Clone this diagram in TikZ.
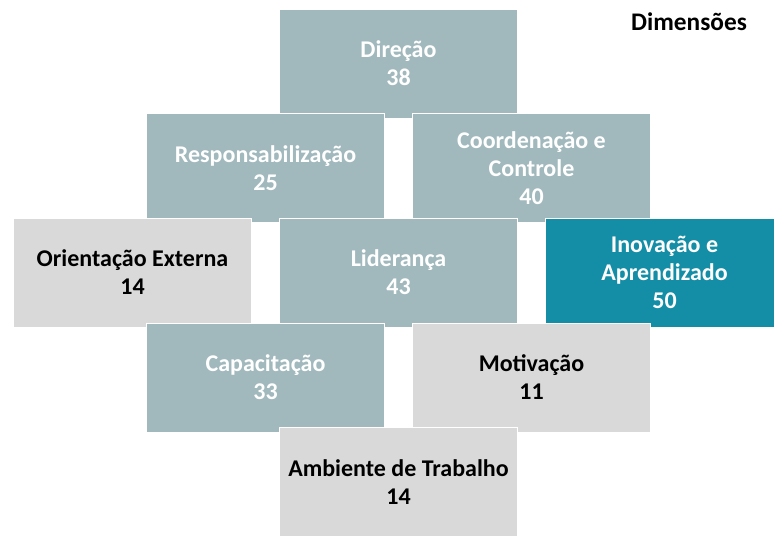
\documentclass[tikz,border=0pt]{standalone}
\usepackage{fontspec}
\setmainfont{Carlito}
\usepackage{tikz}
\usetikzlibrary{positioning}

\definecolor{cinzaAzul}{RGB}{161,185,189}
\definecolor{cinzaClaro}{RGB}{217,217,217}
\definecolor{azulForte}{RGB}{19,142,166}

\begin{document}
\begin{tikzpicture}
  [x=0.75pt,y=-0.75pt,
   every node/.style={rectangle,draw=white,line width=0.6pt,inner sep=0pt,
     minimum width=178.5pt,minimum height=81.75pt,align=center,
     font=\fontsize{18}{21}\selectfont\bfseries},
   fraca/.style={fill=cinzaAzul,text=white},
   neutra/.style={fill=cinzaClaro,text=black},
   forte/.style={fill=azulForte,text=white}]
  \useasboundingbox (0,0) rectangle (774,537);
  \node[fraca] (dir) at (398.5,63.5) {Direção\\38};
  \node[fraca] (resp) at (265.5,168) {Responsabilização\\25};
  \node[fraca] (coord) at (531.5,168) {Coordenação e\\Controle\\40};
  \node[neutra] (orient) at (132.5,272.5) {Orientação Externa\\14};
  \node[fraca] (lider) at (398.5,272.5) {Liderança\\43};
  \node[forte] (inov) at (664.5,272.5) {Inovação e\\Aprendizado\\50};
  \node[fraca] (capac) at (265.5,377.5) {Capacitação\\33};
  \node[neutra] (motiv) at (531.5,377.5) {Motivação\\11};
  \node[neutra] (amb) at (398.5,482) {Ambiente de Trabalho\\14};
  \node[draw=none,fill=none,minimum width=0pt,minimum height=0pt,
    font=\fontsize{19}{22}\selectfont\bfseries] (titulo) at (689,22) {Dimensões};
\end{tikzpicture}
\end{document}
